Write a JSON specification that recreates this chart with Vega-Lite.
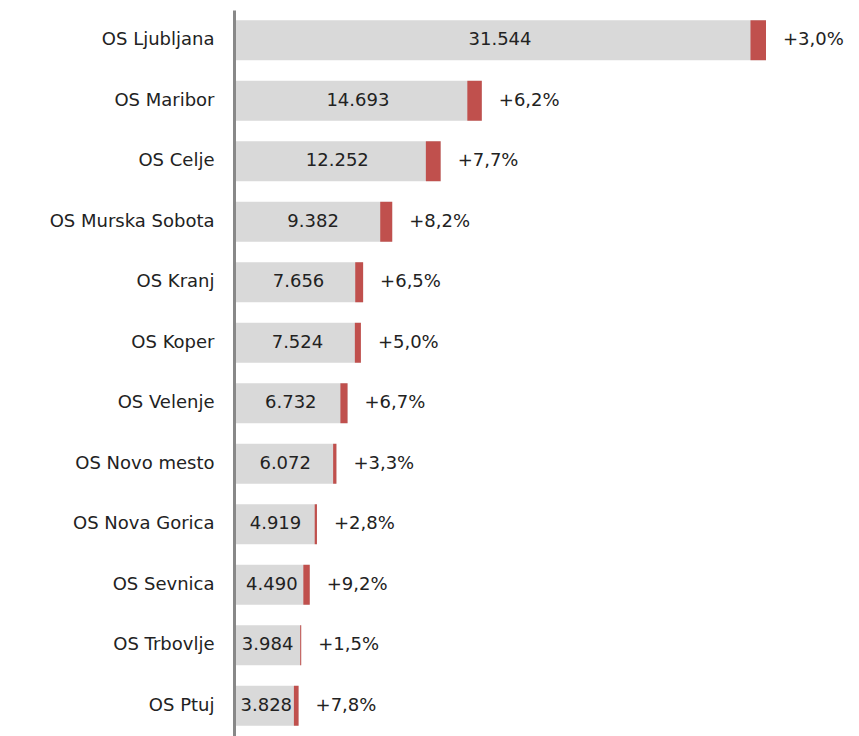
{
  "$schema": "https://vega.github.io/schema/vega-lite/v6.json",
  "autosize": {"type": "none"},
  "padding": {"left": 234, "top": 10, "right": 1, "bottom": 0},
  "width": 624,
  "height": 726,
  "background": "white",
  "config": {"view": {"stroke": null}, "font": "DejaVu Sans"},
  "data": {
    "values": [
      {"office": "OS Ljubljana", "value": 31544, "prev": 30625, "change": "+3,0%"},
      {"office": "OS Maribor", "value": 14693, "prev": 13835, "change": "+6,2%"},
      {"office": "OS Celje", "value": 12252, "prev": 11376, "change": "+7,7%"},
      {"office": "OS Murska Sobota", "value": 9382, "prev": 8671, "change": "+8,2%"},
      {"office": "OS Kranj", "value": 7656, "prev": 7189, "change": "+6,5%"},
      {"office": "OS Koper", "value": 7524, "prev": 7166, "change": "+5,0%"},
      {"office": "OS Velenje", "value": 6732, "prev": 6309, "change": "+6,7%"},
      {"office": "OS Novo mesto", "value": 6072, "prev": 5878, "change": "+3,3%"},
      {"office": "OS Nova Gorica", "value": 4919, "prev": 4785, "change": "+2,8%"},
      {"office": "OS Sevnica", "value": 4490, "prev": 4112, "change": "+9,2%"},
      {"office": "OS Trbovlje", "value": 3984, "prev": 3925, "change": "+1,5%"},
      {"office": "OS Ptuj", "value": 3828, "prev": 3551, "change": "+7,8%"}
    ]
  },
  "transform": [
    {"calculate": "datum.value / 2", "as": "mid"},
    {"calculate": "format(datum.value, ',d')", "as": "raw"},
    {"calculate": "replace(datum.raw, ',', '.')", "as": "valueLabel"}
  ],
  "encoding": {
    "y": {
      "field": "office",
      "type": "nominal",
      "sort": null,
      "scale": {"paddingInner": 0.34, "paddingOuter": 0.17},
      "axis": {
        "title": null,
        "ticks": false,
        "domainColor": "#888888",
        "domainWidth": 3,
        "labelFontSize": 18,
        "labelColor": "#222222",
        "labelPadding": 20,
        "labelFont": "DejaVu Sans",
        "zindex": 1
      }
    }
  },
  "layer": [
    {
      "mark": {"type": "bar", "color": "#d9d9d9"},
      "encoding": {
        "x": {"field": "value", "type": "quantitative", "scale": {"domain": [0, 37000], "nice": false}, "axis": null}
      }
    },
    {
      "mark": {"type": "bar", "color": "#c0504d"},
      "encoding": {
        "x": {"field": "prev", "type": "quantitative"},
        "x2": {"field": "value"}
      }
    },
    {
      "mark": {"type": "text", "fontSize": 18, "color": "#222222", "align": "center", "baseline": "middle"},
      "encoding": {
        "x": {"field": "mid", "type": "quantitative"},
        "text": {"field": "valueLabel"}
      }
    },
    {
      "mark": {"type": "text", "fontSize": 18, "color": "#222222", "align": "left", "baseline": "middle", "dx": 17},
      "encoding": {
        "x": {"field": "value", "type": "quantitative"},
        "text": {"field": "change"}
      }
    }
  ]
}
